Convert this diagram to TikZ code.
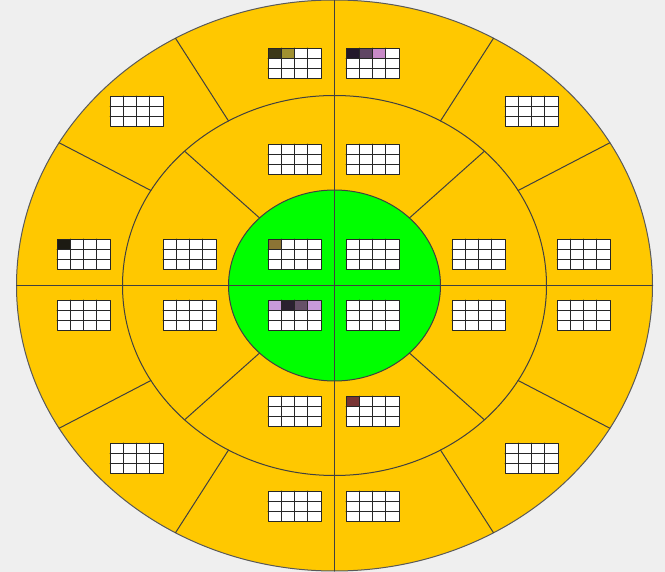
\documentclass[tikz,border=0pt]{standalone}
\definecolor{bgc}{HTML}{EFEFEF}
\definecolor{ring}{HTML}{FFC800}
\definecolor{core}{HTML}{00FF00}
\tikzset{
  cellbox/.style={draw=black!85,line width=0.9pt},
  divline/.style={draw=black!75,line width=1pt}
}
\begin{document}
\begin{tikzpicture}[x=1pt,y=-1pt,line join=round,line cap=round]
	\fill[bgc] (0,0) rectangle (665,572);
	\useasboundingbox (0,0) rectangle (665,572);
	\coordinate (O) at (334.5,285.5);
	% rings
	\filldraw[fill=ring,draw=black!65,line width=1pt] (O) ellipse [x radius=318,y radius=285.5];
	\draw[divline] (O) ellipse [x radius=212,y radius=190];
	\filldraw[fill=core,divline] (O) ellipse [x radius=106,y radius=95.5];
	% radial dividers
	\foreach \a in {30,60,120,150,210,240,300,330}
		\draw[divline] ([shift={(O)}]\a:212 and 190)--([shift={(O)}]\a:318 and 285.5);
	\foreach \a in {45,135,225,315}
		\draw[divline] ([shift={(O)}]\a:106 and 95.5)--([shift={(O)}]\a:212 and 190);
	\coordinate (W) at ([shift={(O)}]180:318 and 285.5);
	\coordinate (E) at ([shift={(O)}]0:318 and 285.5);
	\coordinate (N) at ([shift={(O)}]90:318 and 285.5);
	\coordinate (S) at ([shift={(O)}]270:318 and 285.5);
	\draw[divline] (W)--(E);
	\draw[divline] (N)--(S);
	% grids
	\foreach \gx/\gy in {268/48,346/48,110/96,505/96,57/239,57/300,557/239,557/300,
		110/443,505/443,268/491,346/491,268/144,346/144,163/239,163/300,452/239,452/300,
		268/396,346/396,268/239,346/239,268/300,346/300}
		\fill[white] (\gx,\gy) rectangle ++(53,30);
	% marked cells
	\foreach \gx/\gy/\c/\col in {268/48/0/3C3818,268/48/1/A09030,
		346/48/0/22182A,346/48/1/5F4563,346/48/2/C88AC8,
		57/239/0/1C1A12,268/239/0/8C7434,
		268/300/0/C89ADA,268/300/1/2A2030,268/300/2/665068,268/300/3/C89ADA,
		346/396/0/783434}
	{
		\definecolor{cellfill}{HTML}{\col}
		\fill[cellfill] ({\gx+\c*13.25},\gy) rectangle ++(13.25,10);
	}
	\foreach \gx/\gy in {268/48,346/48,110/96,505/96,57/239,57/300,557/239,557/300,
		110/443,505/443,268/491,346/491,268/144,346/144,163/239,163/300,452/239,452/300,
		268/396,346/396,268/239,346/239,268/300,346/300}
	{
		\draw[cellbox] (\gx,\gy) rectangle ++(53,30);
		\foreach \i in {1,2,3}
			\draw[cellbox] ({\gx+\i*13.25},\gy)--++(0,30);
		\foreach \j in {1,2}
			\draw[cellbox] (\gx,{\gy+\j*10})--++(53,0);
	}
\end{tikzpicture}
\end{document}
